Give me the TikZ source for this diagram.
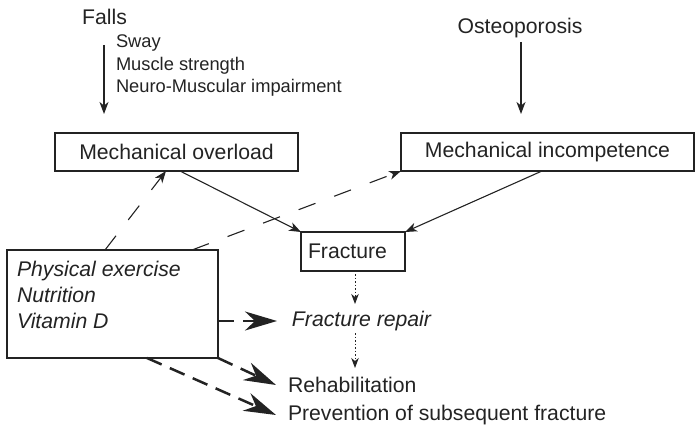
\documentclass[tikz,border=0pt]{standalone}
\usepackage{fontspec}
\setmainfont{Liberation Sans}
\usetikzlibrary{arrows.meta}
\definecolor{ink}{RGB}{35,35,35}
\begin{document}
\begin{tikzpicture}[x=1pt,y=-1pt,
  every node/.style={inner sep=0pt, outer sep=0pt, text=ink},
  bigtxt/.style={font=\fontsize{21.2}{25}\selectfont},
  smalltxt/.style={font=\fontsize{18.3}{22.5}\selectfont},
  boxnode/.style={draw=ink, line width=1.1pt, bigtxt},
  thinarrow/.style={draw=ink, line width=1.1pt, -{Stealth[length=12pt,width=9pt,inset=3.5pt]}},
  thindash/.style={thinarrow, dash pattern=on 18pt off 20pt},
  thickdash/.style={draw=ink, line width=2.5pt, dash pattern=on 16pt off 9pt, -{Stealth[length=32pt,width=19pt,inset=10pt]}},
  dotarrow/.style={draw=ink, line width=0.9pt, dash pattern=on 1.5pt off 2pt, -{Stealth[length=10pt,width=7.5pt,inset=3pt]}}
]
\useasboundingbox (0,0) rectangle (695,430);

% top labels
\node[bigtxt] (falls) at (104.5,17) {Falls};
\node[smalltxt, anchor=west, align=left] (factors) at (116,66) {Sway\\Muscle strength\\Neuro-Muscular impairment};
\coordinate (fallsA) at (104,45);
\coordinate (fallsB) at (104,114);
\draw[thinarrow] (fallsA) -- (fallsB);

\node[bigtxt] (osteo) at (520,28) {Osteoporosis};
\coordinate (osA) at (521,42);
\coordinate (osB) at (521,114);
\draw[thinarrow] (osA) -- (osB);

% boxes
\node[boxnode, minimum width=243pt, minimum height=38pt] (overload) at (176.5,152) {Mechanical overload};
\node[boxnode, minimum width=293pt, minimum height=38pt] (incomp) at (547.5,152) {Mechanical incompetence};
\node[boxnode, minimum width=104pt, minimum height=39pt, text width=90pt, align=left] (fracture) at (353,251.5) {Fracture};
\node[boxnode, minimum width=211pt, minimum height=108pt, anchor=north west] (pe) at (7,250) {};
\node[bigtxt, font=\fontsize{21.2}{26}\selectfont\itshape, anchor=north west, align=left] (petext) at (17,261) {Physical exercise\\Nutrition\\Vitamin D};

\node[bigtxt, font=\fontsize{21.2}{25}\selectfont\itshape] (repair) at (361.5,321) {Fracture repair};
\node[bigtxt, anchor=west] (rehab) at (288,385) {Rehabilitation};
\node[bigtxt, anchor=west] (prev) at (288,415) {Prevention of subsequent fracture};

% solid arrows to fracture
\draw[thinarrow] (overload.south -| 180,0) -- (fracture.north west);
\draw[thinarrow] (incomp.south -| 542,0) -- (fracture.north east);

% thin dashed from pe
\draw[thindash] (pe.north -| 105,0) -- (overload.south -| 166,0);
\draw[thindash] (pe.north -| 192,0) -- (incomp.south west);

% dotted
\draw[dotarrow] (fracture.south -| 355,0) ++(0,3) -- (355,304);
\draw[dotarrow] (355,333) -- (355,368);

% thick dashed
\draw[thickdash] (pe.east |- 0,321) -- (repair.west -| 277,0);
\draw[thickdash] (pe.south east) -- (rehab.west -| 276,387);
\draw[thickdash] (pe.south -| 147,0) -- (prev.west -| 276,417);
\end{tikzpicture}
\end{document}
